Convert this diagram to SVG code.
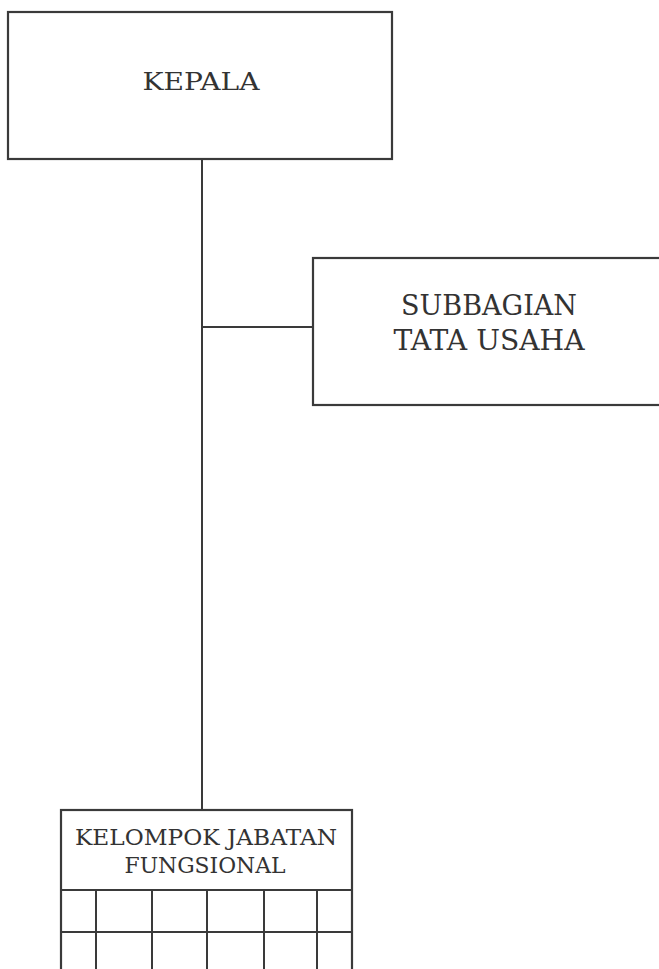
<svg xmlns="http://www.w3.org/2000/svg" width="659" height="969" viewBox="0 0 659 969">
<style>
.box{fill:#fff;stroke:#3a3a3a;stroke-width:2.2}
.ln{fill:none;stroke:#3a3a3a;stroke-width:2}
.t{font-family:"DejaVu Serif","Liberation Serif",serif;fill:#333;text-anchor:middle}
</style>
<rect width="659" height="969" fill="#fff"/>
<g id="connectors">
<line class="ln" x1="202" y1="159" x2="202" y2="810"/>
<line class="ln" x1="202" y1="327" x2="313" y2="327"/>
</g>
<g id="kepala">
<rect class="box" x="8" y="12" width="384" height="147"/>
<text class="t" x="201" y="90" font-size="25" textLength="117" lengthAdjust="spacingAndGlyphs">KEPALA</text>
</g>
<g id="subbagian">
<rect class="box" x="313" y="258" width="354" height="147"/>
<text class="t" x="489" y="315" font-size="27" textLength="176" lengthAdjust="spacingAndGlyphs">SUBBAGIAN</text>
<text class="t" x="489" y="350" font-size="27" textLength="191" lengthAdjust="spacingAndGlyphs">TATA USAHA</text>
</g>
<g id="kelompok">
<rect class="box" x="61" y="810" width="291" height="170"/>
<line class="ln" x1="61" y1="890" x2="352" y2="890"/>
<line class="ln" x1="61" y1="932" x2="352" y2="932"/>
<line class="ln" x1="96" y1="890" x2="96" y2="969"/>
<line class="ln" x1="152" y1="890" x2="152" y2="969"/>
<line class="ln" x1="207" y1="890" x2="207" y2="969"/>
<line class="ln" x1="264" y1="890" x2="264" y2="969"/>
<line class="ln" x1="317" y1="890" x2="317" y2="969"/>
<text class="t" x="206" y="845" font-size="23" textLength="262" lengthAdjust="spacingAndGlyphs">KELOMPOK JABATAN</text>
<text class="t" x="205" y="873" font-size="23" textLength="161" lengthAdjust="spacingAndGlyphs">FUNGSIONAL</text>
</g>
</svg>
